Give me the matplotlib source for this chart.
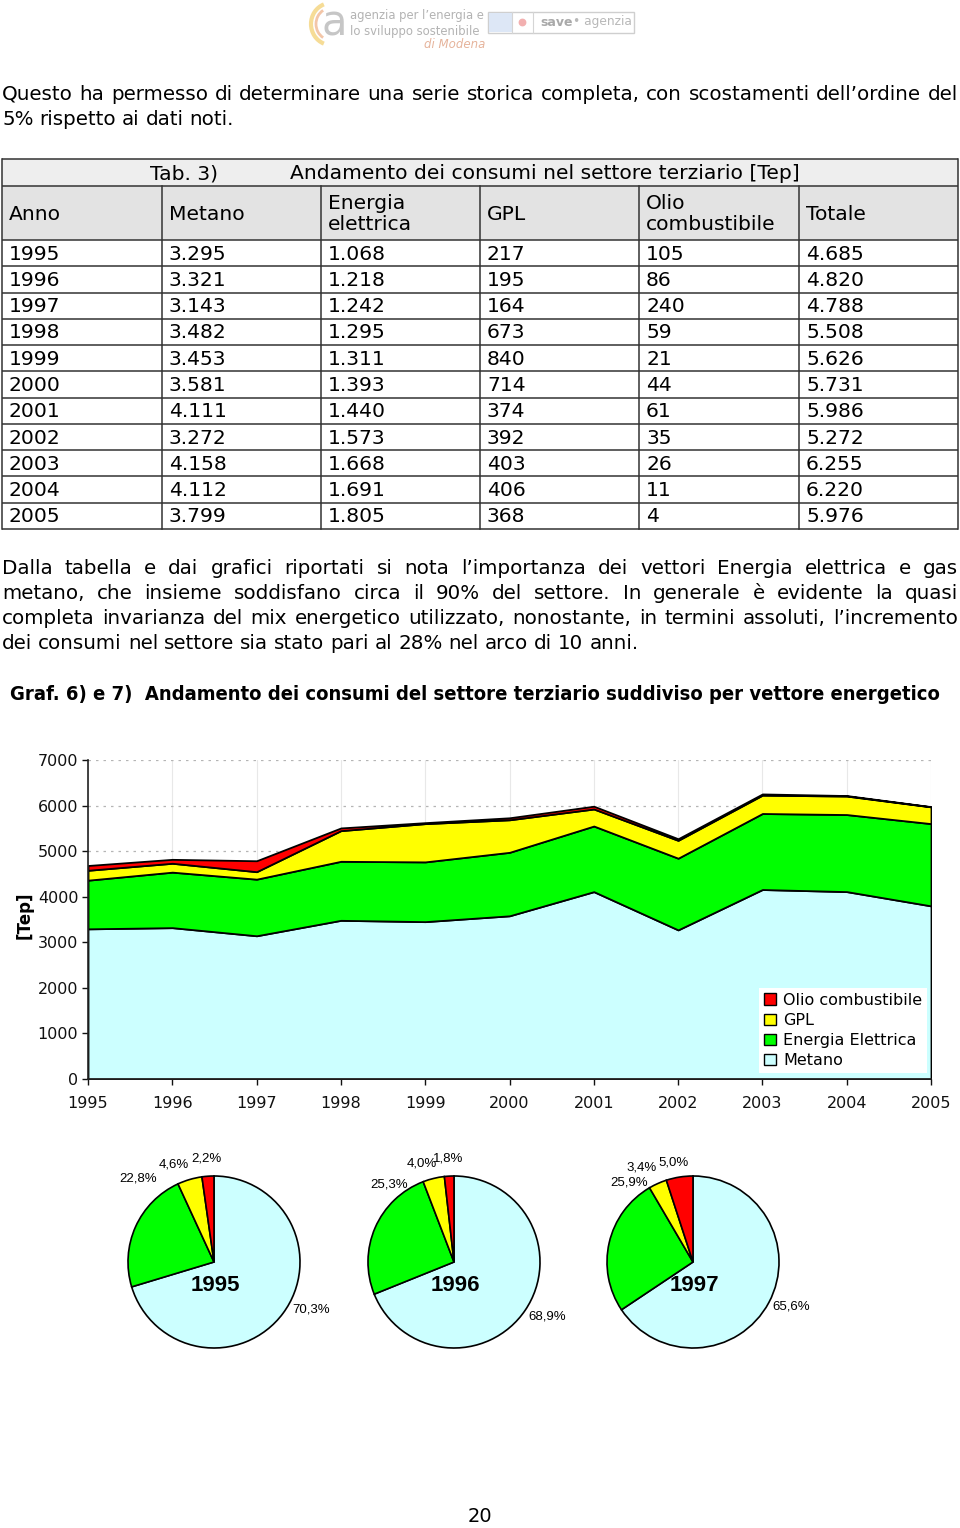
import matplotlib
matplotlib.use('Agg')
import matplotlib.pyplot as plt
from matplotlib.patches import Rectangle, Circle, Arc, Patch

# ---------------- data ----------------
years = [1995, 1996, 1997, 1998, 1999, 2000, 2001, 2002, 2003, 2004, 2005]
metano = [3295, 3321, 3143, 3482, 3453, 3581, 4111, 3272, 4158, 4112, 3799]
energia = [1068, 1218, 1242, 1295, 1311, 1393, 1440, 1573, 1668, 1691, 1805]
gpl = [217, 195, 164, 673, 840, 714, 374, 392, 403, 406, 368]
olio = [105, 86, 240, 59, 21, 44, 61, 35, 26, 11, 4]
totale = [4685, 4820, 4788, 5508, 5626, 5731, 5986, 5272, 6255, 6220, 5976]

series_names = ['Metano', 'Energia Elettrica', 'GPL', 'Olio combustibile']
series_colors = ['#CCFFFF', '#00FF00', '#FFFF00', '#FF0000']

table_title_left = 'Tab. 3)'
table_title = 'Andamento dei consumi nel settore terziario [Tep]'
table_headers = ['Anno', 'Metano', 'Energia\nelettrica', 'GPL', 'Olio\ncombustibile', 'Totale']

y_ticks = [0, 1000, 2000, 3000, 4000, 5000, 6000, 7000]
pie_years = [1995, 1996, 1997]

para1 = ["Questo ha permesso di determinare una serie storica completa, con scostamenti dell\u2019ordine del",
         "5% rispetto ai dati noti."]
para2 = ["Dalla tabella e dai grafici riportati si nota l\u2019importanza dei vettori Energia elettrica e gas",
         "metano, che insieme soddisfano circa il 90% del settore. In generale \u00e8 evidente la quasi",
         "completa invarianza del mix energetico utilizzato, nonostante, in termini assoluti, l\u2019incremento",
         "dei consumi nel settore sia stato pari al 28% nel arco di 10 anni."]
graf_title = "Graf. 6) e 7)  Andamento dei consumi del settore terziario suddiviso per vettore energetico"
page_number = "20"

# ---------------- page setup ----------------
W, H, DPI = 960, 1528, 100
fig = plt.figure(figsize=(W / DPI, H / DPI), dpi=DPI)
fig.patch.set_facecolor('white')
page = fig.add_axes([0, 0, 1, 1])
page.set_xlim(0, W)
page.set_ylim(H, 0)
page.axis('off')
renderer = fig.canvas.get_renderer()

BODY = dict(family='DejaVu Sans')
COND = dict(family='DejaVu Sans', fontstretch='condensed')


def measure(t):
    return t.get_window_extent(renderer).width


def natural_width(line, size):
    t = page.text(0, 0, line, fontsize=size, **BODY)
    w = measure(t)
    t.remove()
    return w


def text_line(words_line, y, x0, x1, size, justify=True, weight='normal'):
    words = words_line.split(' ')
    arts = [page.text(0, y, w, fontsize=size, fontweight=weight, va='center', ha='left', **BODY) for w in words]
    widths = [measure(a) for a in arts]
    sp = size * 0.30 * DPI / 72
    if justify and len(words) > 1:
        gap = (x1 - x0 - sum(widths)) / (len(words) - 1)
    else:
        gap = sp
    x = x0
    for a, w in zip(arts, widths):
        a.set_x(x)
        x += w + gap


def paragraph(lines, y0, dy, size, x0=2, x1=958):
    for i, ln in enumerate(lines):
        text_line(ln, y0 + i * dy, x0, x1, size, justify=(i < len(lines) - 1))


# body font size: fit the justified lines into the text width
base = 14.0
target = 956
just_lines = para1[:-1] + para2[:-1]
body_size = min(base * target / natural_width(ln, base) for ln in just_lines)
body_size = min(body_size, 15.0)

# ---------------- header logo ----------------
page.add_patch(Arc((331, 24), 40, 42, theta1=110, theta2=250, color='#f6dc96', lw=3))
page.add_patch(Arc((331, 24), 30, 32, theta1=120, theta2=240, color='#f3c6a8', lw=2))
page.text(334, 24, 'a', fontsize=30, color='#c6c6c6', ha='center', va='center', family='DejaVu Sans')
page.text(350, 15, "agenzia per l\u2019energia e", fontsize=9.3, color='#b3b3b3', va='center', **COND)
page.text(350, 31, "lo sviluppo sostenibile", fontsize=9.3, color='#b3b3b3', va='center', **COND)
page.text(424, 44, "di Modena", fontsize=8.5, style='italic', color='#e6b49c', va='center')
page.add_patch(Rectangle((488, 12), 146, 21, fill=False, edgecolor='#cfcfcf', lw=1))
page.add_patch(Rectangle((489, 13), 23, 19, facecolor='#dde7f6', edgecolor='none'))
page.plot([512, 512], [12, 33], color='#d5d5d5', lw=0.8)
page.plot([533, 533], [12, 33], color='#d5d5d5', lw=0.8)
page.add_patch(Circle((522.5, 22.5), 3.2, color='#f2b0b0'))
page.text(540, 22, 'save', fontsize=9, fontweight='bold', color='#a9a9a9', va='center', family='DejaVu Sans')
page.text(573, 22, '\u2022 agenzia', fontsize=8.8, color='#b8b8b8', va='center', family='DejaVu Sans')

# ---------------- paragraph 1 ----------------
paragraph(para1, 94, 25.5, body_size)

# ---------------- table ----------------
cols = [2, 162, 321, 480, 639, 799, 958]
t_top, t_hdr, t_dat = 159, 186, 240
t_bot = 529
row_h = (t_bot - t_dat) / len(years)
page.add_patch(Rectangle((cols[0], t_top), cols[-1] - cols[0], t_hdr - t_top, facecolor='#eeeeee', edgecolor='none'))
page.add_patch(Rectangle((cols[0], t_hdr), cols[-1] - cols[0], t_dat - t_hdr, facecolor='#e3e3e3', edgecolor='none'))
lc, lw = '#333333', 1.1
for yy in [t_top, t_hdr, t_dat] + [t_dat + (i + 1) * row_h for i in range(len(years))]:
    page.plot([cols[0], cols[-1]], [yy, yy], color=lc, lw=lw, solid_capstyle='butt')
page.plot([cols[0], cols[0]], [t_top, t_bot], color=lc, lw=lw)
page.plot([cols[-1], cols[-1]], [t_top, t_bot], color=lc, lw=lw)
for cx in cols[1:-1]:
    page.plot([cx, cx], [t_hdr, t_bot], color=lc, lw=lw)

TS = 14.6
page.text(150, (t_top + t_hdr) / 2 + 1, table_title_left, fontsize=TS, va='center', **BODY)
page.text(290, (t_top + t_hdr) / 2 + 1, table_title, fontsize=TS, va='center', **BODY)
for j, h in enumerate(table_headers):
    page.text(cols[j] + 7, (t_hdr + t_dat) / 2 + 1, h, fontsize=TS, va='center', linespacing=1.15, **BODY)


def fmt(v):
    return f"{v:,}".replace(',', '.')


for i, yr in enumerate(years):
    vals = [str(yr), fmt(metano[i]), fmt(energia[i]), fmt(gpl[i]), fmt(olio[i]), fmt(totale[i])]
    yc = t_dat + (i + 0.5) * row_h + 1
    for j, v in enumerate(vals):
        page.text(cols[j] + 7, yc, v, fontsize=TS, va='center', **BODY)

# ---------------- paragraph 2 ----------------
paragraph(para2, 568, 25.2, body_size)

# ---------------- chart title ----------------
gt = page.text(10, 695, graf_title, fontsize=14, fontweight='bold', va='center', **COND)
gw = measure(gt)
gt.set_fontsize(14 * (938 / gw))

# ---------------- stacked area chart ----------------
L, R, T, B = 88, 931, 760, 1079
ax = fig.add_axes([L / W, 1 - B / H, (R - L) / W, (B - T) / H])
ax.stackplot(years, metano, energia, gpl, olio, colors=series_colors,
             edgecolor='black', linewidth=1.3, zorder=3)
ax.set_xlim(years[0], years[-1])
ax.set_ylim(0, 7000)
ax.set_yticks(y_ticks)
ax.set_xticks(years)
ax.yaxis.grid(True, linestyle=(0, (2, 4)), color='#b5b5b5', lw=0.9, zorder=0)
ax.xaxis.grid(True, linestyle='-', color='#e8e8e8', lw=0.8, zorder=0)
ax.set_axisbelow(True)
for s in ['top', 'right']:
    ax.spines[s].set_visible(False)
for s in ['left', 'bottom']:
    ax.spines[s].set_color('#222222')
    ax.spines[s].set_linewidth(1.2)
    ax.spines[s].set_zorder(5)
ax.tick_params(axis='both', direction='out', length=4, width=1.0, labelsize=11.5, colors='#111111')
ax.tick_params(axis='y', pad=3)
ax.tick_params(axis='x', pad=8)
page.text(25, 915, '[Tep]', rotation=90, fontsize=12, fontweight='bold', ha='center', va='center', family='DejaVu Sans')

handles = [Patch(facecolor=c, edgecolor='black', lw=1.0) for c in series_colors]
leg = ax.legend(handles[::-1], series_names[::-1], loc='lower right',
                bbox_to_anchor=(1 - 4 / (R - L), 6 / (B - T)), frameon=True, fancybox=False,
                facecolor='white', edgecolor='none', framealpha=1, fontsize=11.5,
                handlelength=0.75, handleheight=0.75, handletextpad=0.45,
                labelspacing=0.32, borderpad=0.3, borderaxespad=0)
leg.set_zorder(10)

# ---------------- pies ----------------
pie_centers = [(214, 1262), (454, 1262), (693, 1262)]
pie_r = 86
label_offsets = [
    [(1.13, -0.55), (-0.88, 0.97), (-0.47, 1.13), (-0.09, 1.20)],
    [(1.08, -0.63), (-0.76, 0.90), (-0.38, 1.15), (-0.07, 1.20)],
    [(1.14, -0.52), (-0.74, 0.92), (-0.60, 1.10), (-0.23, 1.16)],
]
for k, yr in enumerate(pie_years):
    i = years.index(yr)
    vals = [metano[i], energia[i], gpl[i], olio[i]]
    tot = sum(vals)
    cx, cy = pie_centers[k]
    ext = 1.5 * pie_r
    pax = fig.add_axes([(cx - ext) / W, 1 - (cy + ext) / H, 2 * ext / W, 2 * ext / H])
    pax.pie(vals, colors=series_colors, startangle=90, counterclock=False, radius=1,
            wedgeprops=dict(edgecolor='black', linewidth=1.2))
    pax.set_xlim(-1.5, 1.5)
    pax.set_ylim(-1.5, 1.5)
    pax.set_aspect('equal')
    pax.axis('off')
    for v, (dx, dy) in zip(vals, label_offsets[k]):
        lab = f"{100 * v / tot:.1f}%".replace('.', ',')
        pax.text(dx, dy, lab, fontsize=9.5, ha='center', va='center', family='Liberation Sans')
    pax.text(0.02, -0.27, str(yr), fontsize=16, fontweight='bold', ha='center', va='center',
             family='Liberation Sans')

# ---------------- page number ----------------
page.text(480, 1517, page_number, fontsize=14, ha='center', va='center', **BODY)

fig.savefig('out.png', dpi=DPI, facecolor='white')
